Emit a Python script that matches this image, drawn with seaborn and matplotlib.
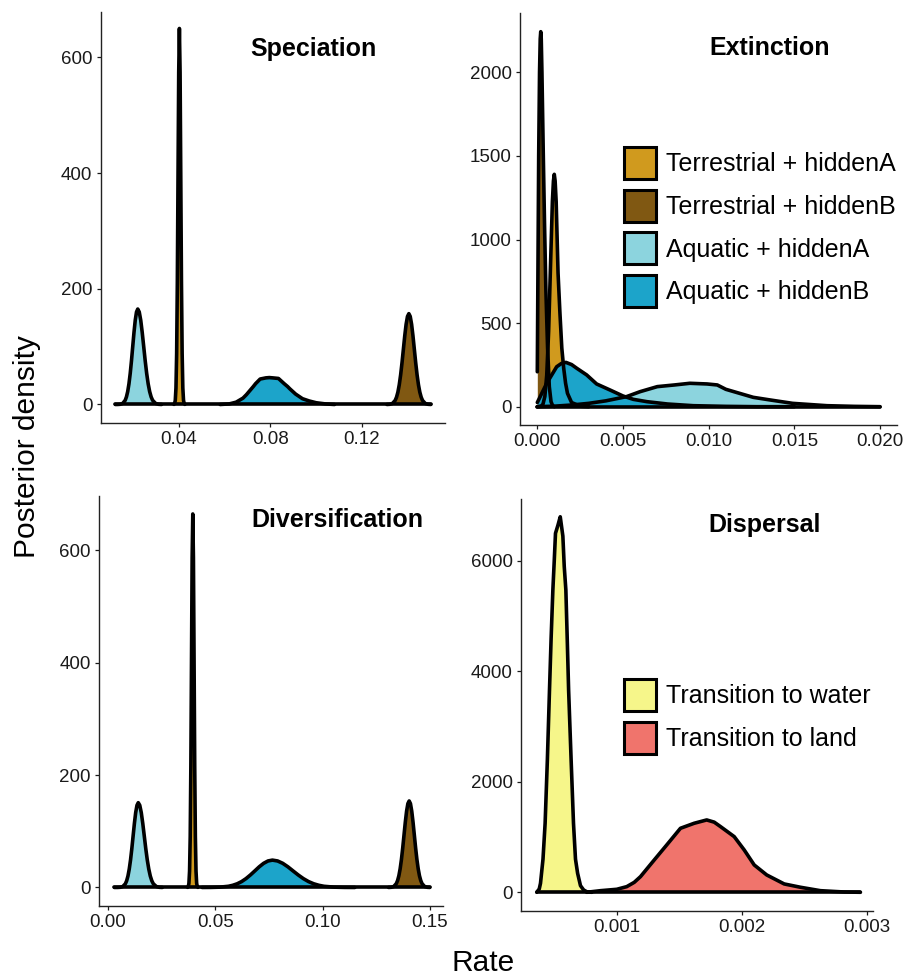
import matplotlib
matplotlib.use('Agg')
import matplotlib.pyplot as plt
from matplotlib.patches import Patch
import seaborn as sns

# ---- data (rate, posterior density) ----
# Speciation
spec_terrA_x = [0.0378, 0.0381, 0.0384, 0.0387, 0.0390, 0.0393, 0.0396, 0.0399, 0.0402,
                0.0405, 0.0408, 0.0411, 0.0414, 0.0417, 0.0420, 0.0423, 0.0426]
spec_terrA_y = [0.2, 1.4, 7.2, 28.5, 88, 211, 394, 574, 650, 574, 394, 211, 88, 28.5, 7.2, 1.4, 0.2]
spec_terrB_x = [0.1309, 0.1321, 0.1333, 0.1345, 0.1351, 0.1357, 0.1363, 0.1369, 0.1375, 0.1381,
                0.1387, 0.1393, 0.1399, 0.1405, 0.1411, 0.1417, 0.1423, 0.1429, 0.1435, 0.1441,
                0.1447, 0.1453, 0.1459, 0.1465, 0.1477, 0.1489, 0.1501]
spec_terrB_y = [0.05, 0.35, 1.7, 6.9, 12.5, 21.2, 34, 51, 71.9, 95.2, 118.5, 138.6, 152.2, 157,
                152.2, 138.6, 118.5, 95.2, 71.9, 51, 34, 21.2, 12.5, 6.9, 1.7, 0.35, 0.05]
spec_aqA_x = [0.0122, 0.0132, 0.0143, 0.0154, 0.0165, 0.01705, 0.0176, 0.01815, 0.0187, 0.01925,
              0.0198, 0.02035, 0.0209, 0.02145, 0.0220, 0.02265, 0.0233, 0.02395, 0.0246, 0.02525,
              0.0259, 0.02655, 0.0272, 0.02785, 0.0285, 0.0298, 0.0311, 0.0324]
spec_aqA_y = [0, 0.05, 0.36, 1.8, 7.2, 13.1, 22.3, 35.7, 53.6, 75.5, 100.1, 124.5, 145.6, 159.9, 165,
              159.9, 145.6, 124.5, 100.1, 75.5, 53.6, 35.7, 22.3, 13.1, 7.2, 1.8, 0.36, 0.05]
spec_aqB_x = [0.058, 0.062, 0.065, 0.068, 0.0695, 0.071, 0.0725, 0.0735, 0.0755, 0.078, 0.0795,
              0.081, 0.0835, 0.086, 0.0875, 0.0885, 0.091, 0.094, 0.097, 0.100, 0.104, 0.108]
spec_aqB_y = [0, 1, 4, 11, 17, 24, 31, 36, 44, 46, 46.5, 46, 45, 36, 31, 27, 18, 10, 6, 3, 1, 0]

# Extinction
ext_terrA_x = [0.0, 0.00022, 0.00033, 0.00044, 0.00055, 0.00066, 0.00077, 0.00088, 0.00094, 0.00099,
               0.00104, 0.0011, 0.00121, 0.00132, 0.00143, 0.00154, 0.00165, 0.00176, 0.002, 0.0025, 0.003]
ext_terrA_y = [0, 3, 15, 61, 188, 451, 843, 1227, 1350, 1390, 1350, 1227, 800, 560, 350, 230, 140, 80,
               25, 3, 0]
ext_terrB_x = [0.0, 0.00003, 0.00008, 0.00013, 0.00017, 0.0002, 0.00023, 0.00027, 0.00035, 0.00042,
               0.0005, 0.0006, 0.0007, 0.0008, 0.0009, 0.001]
ext_terrB_y = [209, 700, 1500, 2000, 2200, 2243, 2200, 2000, 1500, 1100, 700, 350, 120, 30, 5, 0]
ext_aqA_x = [0.0, 0.001, 0.002, 0.003, 0.004, 0.0052, 0.006, 0.007, 0.008, 0.0089, 0.0099, 0.0105,
             0.011, 0.0118, 0.0126, 0.0136, 0.0149, 0.0169, 0.0185, 0.02]
ext_aqA_y = [0, 3, 10, 20, 35, 60, 90, 120, 130, 140, 136, 130, 104, 80, 56, 40, 20, 6, 2, 0]
ext_aqB_x = [0.0, 0.00055, 0.00113, 0.0014, 0.00167, 0.002, 0.0023, 0.00288, 0.00346, 0.00424, 0.005,
             0.0056, 0.0064, 0.0076, 0.0091, 0.011, 0.0128, 0.015]
ext_aqB_y = [25, 140, 239, 258, 265, 252, 230, 190, 136, 100, 64, 44, 30, 16, 6, 2, 0, 0]

# Diversification
div_terrA_x = [0.0371, 0.0374, 0.0377, 0.0380, 0.0383, 0.0386, 0.0389, 0.0392, 0.0395,
               0.0398, 0.0401, 0.0404, 0.0407, 0.0410, 0.0413, 0.0416, 0.0419]
div_terrA_y = [0.2, 1.5, 7.4, 29.2, 90, 216, 403, 587, 665, 587, 403, 216, 90, 29.2, 7.4, 1.5, 0.2]
div_terrB_x = [0.1307, 0.1319, 0.1331, 0.1343, 0.1349, 0.1355, 0.1361, 0.1367, 0.1373, 0.1379,
               0.1385, 0.1391, 0.1397, 0.1403, 0.1409, 0.1415, 0.1421, 0.1427, 0.1433, 0.1439,
               0.1445, 0.1451, 0.1457, 0.1463, 0.1475, 0.1487, 0.1499]
div_terrB_y = [0.05, 0.34, 1.7, 6.8, 12.3, 20.8, 33.3, 50, 70.5, 93.4, 116.2, 135.9, 149.3, 154,
               149.3, 135.9, 116.2, 93.4, 70.5, 50, 33.3, 20.8, 12.3, 6.8, 1.7, 0.34, 0.05]
div_aqA_x = [0.0030, 0.0045, 0.0057, 0.0069, 0.0081, 0.0087, 0.0093, 0.0099, 0.0105, 0.0111, 0.0117,
             0.0123, 0.0129, 0.0135, 0.0141, 0.0148, 0.0155, 0.0162, 0.0169, 0.0176, 0.0183, 0.0190,
             0.0197, 0.0204, 0.0211, 0.0225, 0.0239, 0.0253]
div_aqA_y = [0, 0.05, 0.33, 1.7, 6.6, 12, 20.4, 32.7, 49, 69.1, 91.6, 114, 133.3, 146.3, 151,
             146.3, 133.3, 114, 91.6, 69.1, 49, 32.7, 20.4, 12, 6.6, 1.7, 0.33, 0.05]
div_aqB_x = [0.0438, 0.0479, 0.0520, 0.0561, 0.05815, 0.0602, 0.06225, 0.0643, 0.06635, 0.0684,
             0.07045, 0.0725, 0.07455, 0.0766, 0.0790, 0.0814, 0.0838, 0.0862, 0.0886, 0.0910,
             0.0934, 0.0958, 0.0982, 0.1006, 0.1054, 0.1102, 0.1150]
div_aqB_y = [0.02, 0.11, 0.54, 2.1, 3.9, 6.6, 10.5, 15.8, 22.3, 29.5, 36.8, 43, 47.2, 48.7,
             47.2, 43, 36.8, 29.5, 22.3, 15.8, 10.5, 6.6, 3.9, 2.1, 0.54, 0.11, 0.02]

# Dispersal
disp_water_x = [0.00036, 0.00038, 0.00039, 0.00041, 0.000427, 0.000445, 0.000462, 0.000475, 0.000489,
                0.0005, 0.00051, 0.00053, 0.000548, 0.00056, 0.000569, 0.00058, 0.000593, 0.000605,
                0.000615, 0.000635, 0.000654, 0.00067, 0.000687, 0.00071, 0.000735, 0.00076, 0.0008]
disp_water_y = [0, 60, 163, 600, 1250, 2400, 3663, 4600, 5474, 6000, 6501, 6650, 6800, 6600, 6450,
                5900, 5474, 4500, 3663, 2400, 1250, 600, 344, 120, 42, 10, 0]
disp_land_x = [0.00076, 0.00087, 0.001, 0.00108, 0.00114, 0.00119, 0.0013, 0.0014, 0.00151, 0.00162,
               0.00172, 0.00178, 0.00183, 0.00194, 0.00202, 0.0021, 0.0022, 0.00234, 0.00247, 0.00263,
               0.00282, 0.00295]
disp_land_y = [0, 29, 54, 102, 180, 283, 585, 857, 1159, 1250, 1310, 1270, 1190, 1008, 767, 495, 314,
               151, 91, 29, 5, 0]

state_labels = ['Terrestrial + hiddenA', 'Terrestrial + hiddenB', 'Aquatic + hiddenA', 'Aquatic + hiddenB']
state_colors = ['#D09A1E', '#805812', '#8CD4DE', '#1CA4CA']
disp_labels = ['Transition to water', 'Transition to land']
disp_colors = ['#F6F68A', '#F0746C']

sns.set_theme(style='ticks')
plt.rcParams['font.family'] = ['Liberation Sans', 'DejaVu Sans']
plt.rcParams['text.color'] = 'black'

W, H = 904, 977
fig = plt.figure(figsize=(W / 100, H / 100), dpi=100)


def px_axes(l, t, r, b):
    return fig.add_axes([l / W, 1 - b / H, (r - l) / W, (b - t) / H])


def draw_panel(ax, curves, colors, xlim, ylim, xticks, xlabels, yticks):
    allx = []
    for (x, y), c in zip(curves, colors):
        ax.fill_between(x, y, 0, color=c, lw=0)
        sns.lineplot(x=x, y=y, ax=ax, color='black', lw=2.6, sort=False, estimator=None)
        allx += x
    for ln in ax.lines:
        ln.set_solid_joinstyle('round')
    ax.plot([min(allx), max(allx)], [0, 0], color='black', lw=2.6, solid_capstyle='round')
    ax.set_xlim(xlim)
    ax.set_ylim(ylim)
    ax.set_xticks(xticks)
    ax.set_xticklabels(xlabels)
    ax.set_yticks(yticks)
    ax.set_yticklabels([str(v) for v in yticks])
    ax.set_xlabel('')
    ax.set_ylabel('')
    sns.despine(ax=ax)
    for s in ['left', 'bottom']:
        ax.spines[s].set_linewidth(1.0)
        ax.spines[s].set_color('#222222')
    ax.tick_params(labelsize=13.5, colors='#1a1a1a', length=3, width=0.9, pad=3)


ax1 = px_axes(100.7, 11.7, 445, 423)
draw_panel(ax1, [(spec_terrA_x, spec_terrA_y), (spec_terrB_x, spec_terrB_y),
                 (spec_aqA_x, spec_aqA_y), (spec_aqB_x, spec_aqB_y)], state_colors,
           (0.0058, 0.1563), (-32, 679), [0.04, 0.08, 0.12], ['0.04', '0.08', '0.12'], [0, 200, 400, 600])

ax2 = px_axes(520, 13.3, 896.7, 425)
draw_panel(ax2, [(ext_terrA_x, ext_terrA_y), (ext_terrB_x, ext_terrB_y),
                 (ext_aqA_x, ext_aqA_y), (ext_aqB_x, ext_aqB_y)], state_colors,
           (-0.00101, 0.02097), (-109.5, 2353), [0, 0.005, 0.01, 0.015, 0.02],
           ['0.000', '0.005', '0.010', '0.015', '0.020'], [0, 500, 1000, 1500, 2000])

ax3 = px_axes(99.3, 496, 443.3, 906)
draw_panel(ax3, [(div_terrA_x, div_terrA_y), (div_terrB_x, div_terrB_y),
                 (div_aqA_x, div_aqA_y), (div_aqB_x, div_aqB_y)], state_colors,
           (-0.00405, 0.1562), (-33, 697), [0, 0.05, 0.1, 0.15], ['0.00', '0.05', '0.10', '0.15'],
           [0, 200, 400, 600])

ax4 = px_axes(521, 499, 873.3, 911)
draw_panel(ax4, [(disp_water_x, disp_water_y), (disp_land_x, disp_land_y)], disp_colors,
           (0.000234, 0.003053), (-339, 7122), [0.001, 0.002, 0.003], ['0.001', '0.002', '0.003'],
           [0, 2000, 4000, 6000])

# panel titles
for txt, x, y in [('Speciation', 313.7, 49), ('Extinction', 769.3, 48),
                  ('Diversification', 337, 520), ('Dispersal', 765, 525)]:
    fig.text(x / W, 1 - y / H, txt, ha='center', va='center', fontsize=18, fontweight='bold')

# legends
leg_kw = dict(loc='upper left', bbox_transform=fig.transFigure, frameon=False, borderpad=0,
              borderaxespad=0, handlelength=1.28, handleheight=1.59, handletextpad=0.4,
              labelspacing=0.43, fontsize=18)
h1 = [Patch(facecolor=c, edgecolor='black', lw=2.2, label=l) for c, l in zip(state_colors, state_labels)]
ax2.legend(handles=h1, bbox_to_anchor=(624 / W, 1 - 147 / H), **leg_kw)
h2 = [Patch(facecolor=c, edgecolor='black', lw=2.2, label=l) for c, l in zip(disp_colors, disp_labels)]
ax4.legend(handles=h2, bbox_to_anchor=(624 / W, 1 - 679 / H), **leg_kw)

fig.text(27 / W, 1 - 447 / H, 'Posterior density', rotation=90, ha='center', va='center', fontsize=21.5)
fig.text(483 / W, 1 - 963 / H, 'Rate', ha='center', va='center', fontsize=21.5)

fig.savefig('out.png', dpi=100)
